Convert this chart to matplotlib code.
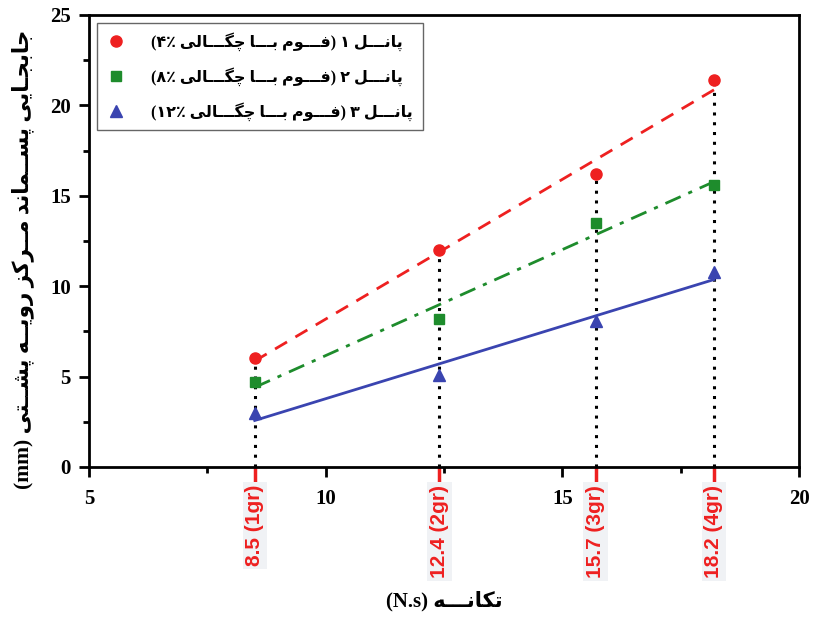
import matplotlib
matplotlib.use('Agg')
import matplotlib.pyplot as plt
import numpy as np
from matplotlib.lines import Line2D
from matplotlib.ticker import MultipleLocator

# داده‌ها
impulse = [8.5, 12.4, 15.7, 18.2]
impulse_labels = ['8.5 (1gr)', '12.4 (2gr)', '15.7 (3gr)', '18.2 (4gr)']
panel1 = [6.0, 12.0, 16.2, 21.4]
panel2 = [4.7, 8.2, 13.5, 15.6]
panel3 = [3.0, 5.1, 8.1, 10.8]
legend_names = ['پانـــل ۱ (فـــوم بـــا چگـــالی ۴٪)',
                'پانـــل ۲ (فـــوم بـــا چگـــالی ۸٪)',
                'پانـــل ۳ (فـــوم بـــا چگـــالی ۱۲٪)']
xlabel = 'تکانـــه (N.s)'
ylabel = 'جابجـایی پســماند مــرکز رویــه پشــتی (mm)'

# شکل‌دهی ساده حروف فارسی (matplotlib خودش این کار را نمی‌کند)
FORMS = {
    'ا': ('\uFE8D', '\uFE8E'), 'د': ('\uFEA9', '\uFEAA'), 'ر': ('\uFEAD', '\uFEAE'),
    'ز': ('\uFEAF', '\uFEB0'), 'و': ('\uFEED', '\uFEEE'),
    'ب': ('\uFE8F', '\uFE90', '\uFE91', '\uFE92'), 'پ': ('\uFB56', '\uFB57', '\uFB58', '\uFB59'),
    'ت': ('\uFE95', '\uFE96', '\uFE97', '\uFE98'), 'ج': ('\uFE9D', '\uFE9E', '\uFE9F', '\uFEA0'),
    'چ': ('\uFB7A', '\uFB7B', '\uFB7C', '\uFB7D'), 'س': ('\uFEB1', '\uFEB2', '\uFEB3', '\uFEB4'),
    'ش': ('\uFEB5', '\uFEB6', '\uFEB7', '\uFEB8'), 'ف': ('\uFED1', '\uFED2', '\uFED3', '\uFED4'),
    'ک': ('\uFB8E', '\uFB8F', '\uFB90', '\uFB91'), 'گ': ('\uFB92', '\uFB93', '\uFB94', '\uFB95'),
    'ل': ('\uFEDD', '\uFEDE', '\uFEDF', '\uFEE0'), 'م': ('\uFEE1', '\uFEE2', '\uFEE3', '\uFEE4'),
    'ن': ('\uFEE5', '\uFEE6', '\uFEE7', '\uFEE8'), 'ه': ('\uFEE9', '\uFEEA', '\uFEEB', '\uFEEC'),
    'ی': ('\uFBFC', '\uFBFD', '\uFBFE', '\uFBFF'),
}
TATWEEL = 'ـ'


def joins_forward(c):
    return c == TATWEEL or (c in FORMS and len(FORMS[c]) == 4)


def is_joining(c):
    return c == TATWEEL or c in FORMS


def shape_word(word):
    out = []
    for i, c in enumerate(word):
        if c not in FORMS:
            out.append(c)
            continue
        prev_j = i > 0 and joins_forward(word[i - 1])
        next_j = len(FORMS[c]) == 4 and i + 1 < len(word) and is_joining(word[i + 1])
        f = FORMS[c]
        if prev_j and next_j:
            out.append(f[3])
        elif prev_j:
            out.append(f[1])
        elif next_j:
            out.append(f[2])
        else:
            out.append(f[0])
    return ''.join(reversed(out))


def rtl(text):
    # توکن‌ها: کلمات فارسی، اعداد/لاتین، و تک‌کاراکترها
    tokens = []
    cur, kind = '', None
    for c in text:
        if is_joining(c):
            k = 'ar'
        elif c.isalnum() or c in '.٪%':
            k = 'ltr'
        else:
            k = 'single'
        if k == kind and k != 'single':
            cur += c
        else:
            if cur:
                tokens.append((kind, cur))
            cur, kind = c, k
    if cur:
        tokens.append((kind, cur))
    mirror = {'(': ')', ')': '('}
    vis = []
    for k, t in reversed(tokens):
        if k == 'ar':
            vis.append(shape_word(t))
        elif k == 'single':
            vis.append(mirror.get(t, t))
        else:
            vis.append(t)
    return ''.join(vis)


plt.rcParams['font.family'] = ['Liberation Serif', 'DejaVu Sans']
plt.rcParams['font.weight'] = 'bold'

fig = plt.figure(figsize=(8.13, 6.21), dpi=100)
ax = fig.add_axes([0.1095, 0.248, 0.8735, 0.728])

x = np.array(impulse)
red = '#ee2020'
green = '#1e8c2c'
blue = '#3a44b0'

# خطوط نقطه‌چین عمودی
ax.vlines(impulse, 0, panel1, colors='black', linestyles=(0, (1, 2.2)), linewidth=2.2, zorder=1)

for ys, col, ls, mk, ms in [(panel1, red, (0, (5, 3.5)), 'o', 8),
                            (panel2, green, (0, (6, 3, 1.5, 3)), 's', 7),
                            (panel3, blue, '-', '^', 9)]:
    p = np.polyfit(x, ys, 1)
    ax.plot(x[[0, -1]], np.polyval(p, x[[0, -1]]), color=col, linestyle=ls, linewidth=2, zorder=2)
    ax.plot(x, ys, linestyle='none', marker=mk, markersize=ms, color=col, zorder=3)

ax.set_xlim(5, 20)
ax.set_ylim(0, 25)
ax.xaxis.set_major_locator(MultipleLocator(5))
ax.xaxis.set_minor_locator(MultipleLocator(2.5))
ax.yaxis.set_major_locator(MultipleLocator(5))
ax.yaxis.set_minor_locator(MultipleLocator(2.5))
for s in ax.spines.values():
    s.set_linewidth(2)
ax.tick_params(which='major', direction='out', length=7, width=2, labelsize=15)
ax.tick_params(which='minor', direction='out', length=4, width=2)
ax.tick_params(axis='x', which='major', pad=9)
ax.tick_params(axis='y', which='major', pad=6)

# برچسب‌های قرمز روی محور x
sec = ax.secondary_xaxis('bottom')
sec.set_xticks(impulse)
sec.set_xticklabels(impulse_labels, rotation=90, color=red, fontsize=15,
                    family='Liberation Sans', fontweight='bold')
sec.tick_params(axis='x', direction='out', length=11, width=2.5, color=red, pad=2)
sec.spines['bottom'].set_visible(False)
for lbl in sec.get_xticklabels():
    lbl.set_bbox(dict(facecolor='#f0f2f5', edgecolor='none', pad=2))

ax.set_xlabel(rtl(xlabel), fontsize=15, fontweight='bold')
ax.xaxis.set_label_coords(0.5, -0.275)
ax.set_ylabel(rtl(ylabel), fontsize=15.5, fontweight='bold')
ax.yaxis.set_label_coords(-0.078, 0.46)

handles = [Line2D([], [], linestyle='none', marker='o', markersize=8, color=red),
           Line2D([], [], linestyle='none', marker='s', markersize=7, color=green),
           Line2D([], [], linestyle='none', marker='^', markersize=9, color=blue)]
leg = ax.legend(handles, [rtl(n) for n in legend_names], loc='upper left',
                bbox_to_anchor=(0.0, 1.0), fancybox=False, framealpha=1,
                edgecolor='#666666', prop={'size': 11.5, 'weight': 'bold'},
                handlelength=1.2, handletextpad=1.6, labelspacing=1.0, borderpad=0.6)
leg.get_frame().set_linewidth(1)

fig.savefig('out.png', dpi=100)
